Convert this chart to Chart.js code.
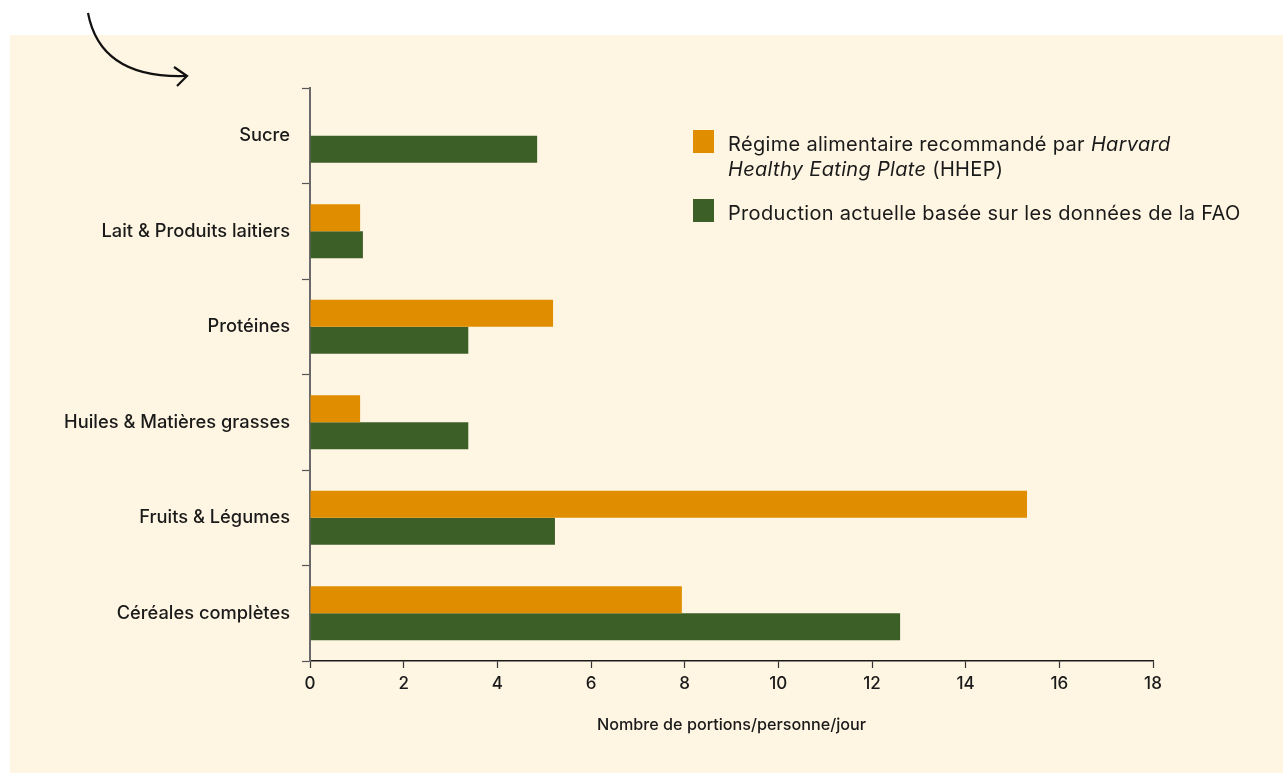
<!DOCTYPE html>
<html>
<head>
<meta charset="utf-8">
<script src="https://cdn.jsdelivr.net/npm/chart.js@4"></script>
<style>
  html, body { margin: 0; padding: 0; background: #ffffff; }
  #wrap { position: relative; width: 1283px; height: 773px; overflow: hidden; }
  #panel { position: absolute; left: 10px; top: 35px; width: 1273px; height: 738px; background: #fef5e2; }
  #chart { position: absolute; left: 0; top: 0; }
  #arrow { position: absolute; left: 0; top: 0; }
  .legend { position: absolute; left: 693px; font-family: Inter, "Liberation Sans", Arial, sans-serif; font-size: 20px; letter-spacing: 0.32px; line-height: 25px; color: #1a1a1a; }
  .legend .box { position: absolute; left: 0; width: 21px; height: 23px; }
  .legend .txt { position: absolute; left: 35px; white-space: nowrap; }
</style>
</head>
<body>
<div id="wrap">
  <div id="panel"></div>
  <canvas id="chart" width="1283" height="773"></canvas>
  <svg id="arrow" width="260" height="110">
    <path d="M88 13 C 96 55, 126 78, 186 76" fill="none" stroke="#111" stroke-width="2.2"/>
    <path d="M174 67 L 187 76 L 177 86" fill="none" stroke="#111" stroke-width="2.2"/>
  </svg>
  <div class="legend" style="top:130px;">
    <div class="box" style="background:#e08e00;"></div>
    <div class="txt" style="top:2px;">Régime alimentaire recommandé par <i>Harvard</i><br><i>Healthy Eating Plate</i> (HHEP)</div>
  </div>
  <div class="legend" style="top:199px;">
    <div class="box" style="background:#3c5f28;"></div>
    <div class="txt" style="top:2px;">Production actuelle basée sur les données de la FAO</div>
  </div>
</div>
<script>
const categories = ['Sucre', 'Lait & Produits laitiers', 'Protéines', 'Huiles & Matières grasses', 'Fruits & Légumes', 'Céréales complètes'];
const hhepValues = [0, 1.07, 5.19, 1.07, 15.31, 7.94];
const faoValues = [4.85, 1.13, 3.38, 3.38, 5.23, 12.6];
const seriesNames = ['Régime alimentaire recommandé par Harvard Healthy Eating Plate (HHEP)', 'Production actuelle basée sur les données de la FAO'];
const xTicks = [0, 2, 4, 6, 8, 10, 12, 14, 16, 18];

const ctx = document.getElementById('chart').getContext('2d');
new Chart(ctx, {
    type: 'bar',
    data: {
        labels: categories,
        datasets: [
            {
                label: seriesNames[0],
                data: hhepValues,
                backgroundColor: '#e08e00',
                barPercentage: 1,
                categoryPercentage: 0.566
            },
            {
                label: seriesNames[1],
                data: faoValues,
                backgroundColor: '#3c5f28',
                barPercentage: 1,
                categoryPercentage: 0.566
            }
        ]
    },
    options: {
        indexAxis: 'y',
        responsive: false,
        animation: false,
        layout: { padding: { left: 0, top: 88, right: 130, bottom: 0 } },
        plugins: {
            legend: { display: false },
            tooltip: { enabled: false }
        },
        scales: {
            x: {
                min: 0,
                max: 18,
                afterFit: s => { s.height = 112; },
                afterBuildTicks: s => { s.ticks = xTicks.map(v => ({ value: v })); },
                border: { color: '#1a1a1a', width: 1.5 },
                grid: { drawOnChartArea: false, tickLength: 7, color: '#333', tickWidth: 1.2 },
                ticks: {
                    color: '#1a1a1a',
                    padding: 6,
                    font: { family: 'Inter', size: 17, weight: 500 }
                },
                title: {
                    display: true,
                    text: 'Nombre de portions/personne/jour',
                    color: '#1a1a1a',
                    padding: { top: 0, bottom: 38 },
                    font: { family: 'Inter', size: 16.2, weight: 500 }
                }
            },
            y: {
                afterFit: s => { s.width = 310; },
                border: { color: '#6a6a6a', width: 2 },
                grid: { drawOnChartArea: false, offset: true, tickLength: 8, color: '#555', tickWidth: 1.2 },
                ticks: {
                    color: '#1a1a1a',
                    padding: 12,
                    font: { family: 'Inter', size: 18.3, weight: 500 }
                }
            }
        }
    }
});
</script>
</body>
</html>
